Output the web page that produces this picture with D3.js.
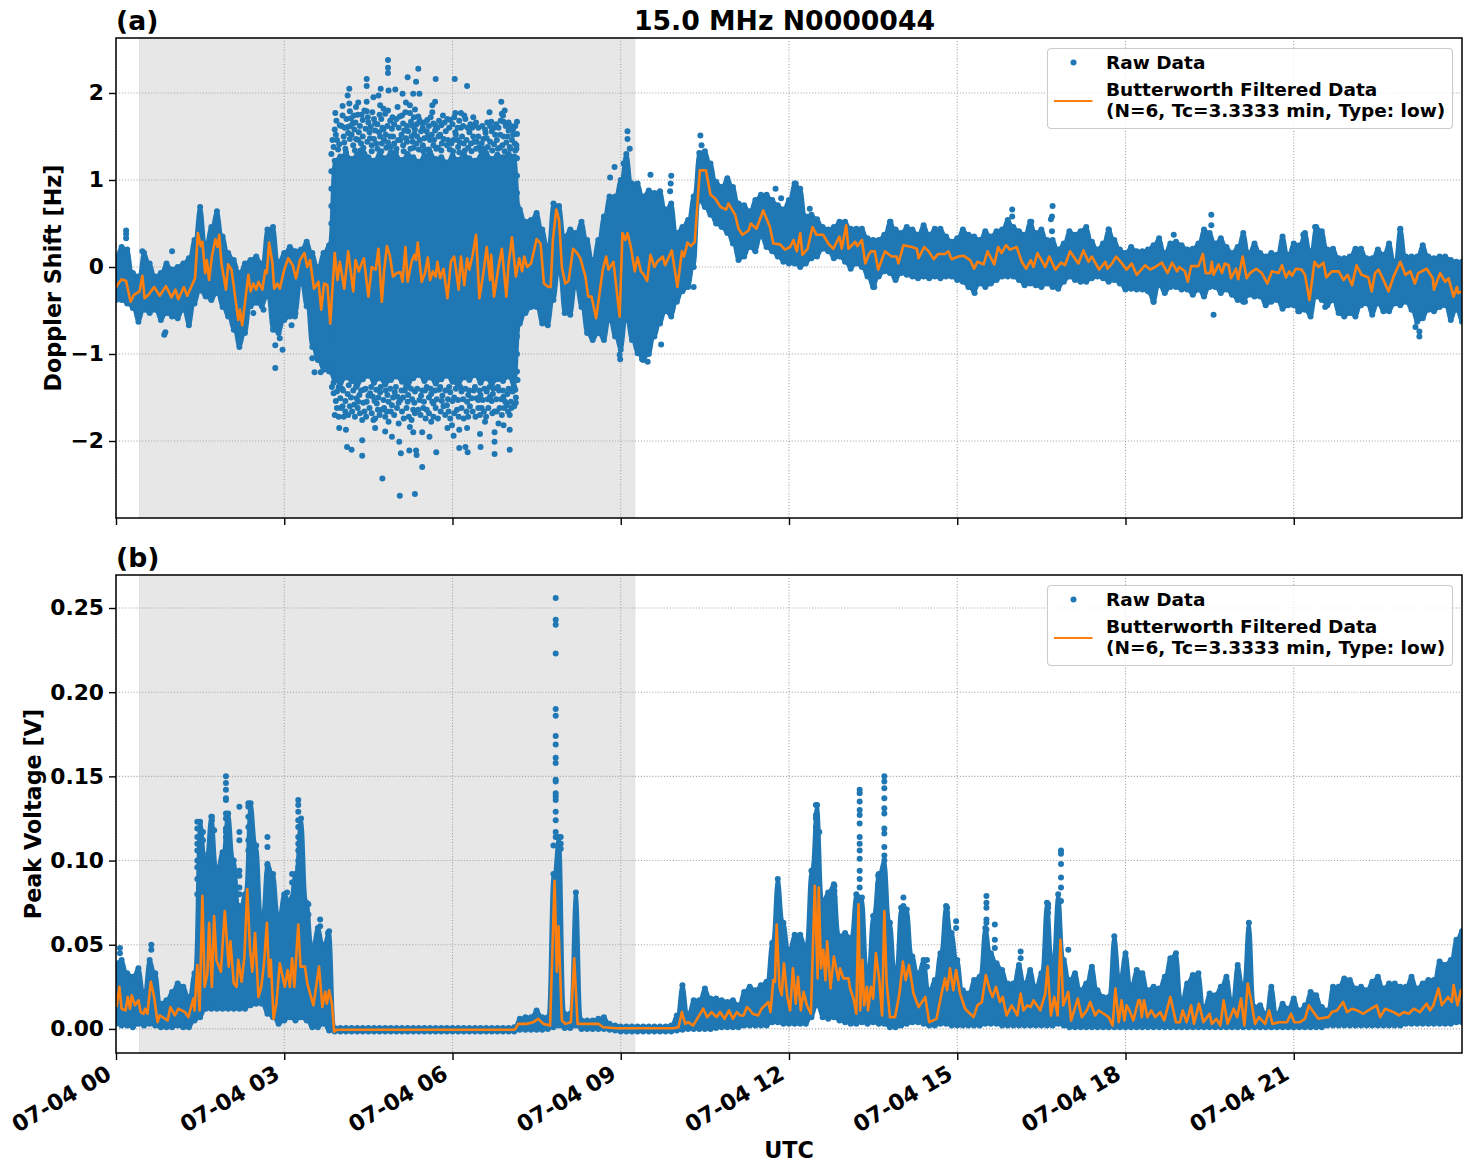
<!DOCTYPE html>
<html>
<head>
<meta charset="utf-8">
<script src="https://cdn.jsdelivr.net/npm/d3@7/dist/d3.min.js"></script>
<style>
html,body{margin:0;padding:0;background:#fff}
text{font-family:"DejaVu Sans";font-weight:bold;fill:#000}
</style>
</head>
<body>
<svg id="fig" width="1472" height="1172"></svg>
<script>
// Tick labels and panel text
const hourTicks = [0,3,6,9,12,15,18,21];
const hourTickLabels = ["07-04 00","07-04 03","07-04 06","07-04 09","07-04 12","07-04 15","07-04 18","07-04 21"];
const dopplerTicks = [-2,-1,0,1,2];
const voltageTicks = [0,0.05,0.10,0.15,0.20,0.25];
const shadedHours = [0.42,9.25];

// Doppler shift: upper and lower edge of the raw point cloud, one pair per 0.1 h from 00:00 to 24:00
const dopplerHigh = [
.12,.23,.20,-.07,-.11,.16,.04,-.11,-.07,.04,
-.03,0,.04,.10,.31,.69,.27,.46,.64,.35,
.16,.08,-.07,.04,.08,.12,.04,.43,.46,.06,
.16,.23,.18,.20,.29,.16,0,.16,.25,
1.22,1.27,1.30,1.24,1.29,1.33,1.26,1.22,1.30,1.25,1.32,1.27,1.23,1.30,1.26,1.21,1.28,1.32,1.24,1.26,1.20,1.28,1.23,1.30,1.25,1.22,1.27,1.31,1.24,1.29,1.26,1.30,1.27,
.66,.52,.54,.62,.43,.23,.73,.70,
.35,.43,.39,.52,.31,.08,.31,.58,.81,.81,
1.0,1.30,.96,.96,.81,.88,.85,.87,.66,.73,
.39,.46,.54,.81,1.31,1.33,1.19,.98,.92,1.02,
.92,.73,.71,.64,.77,.83,.83,.77,.71,.66,
.77,.96,.90,.58,.60,.55,.46,.43,.46,.52,
.52,.44,.44,.44,.33,.31,.31,.37,.52,.43,
.39,.46,.43,.37,.48,.37,.44,.44,.35,.29,
.33,.43,.37,.35,.31,.41,.35,.41,.43,.54,
.46,.41,.37,.52,.39,.43,.31,.31,.20,.27,
.41,.37,.41,.46,.29,.20,.27,.43,.31,.20,
.16,.23,.18,.18,.20,.25,.33,.16,.27,.29,
.25,.20,.21,.27,.43,.39,.27,.33,.23,.16,
.23,.39,.16,.27,.16,.12,.16,.14,.35,.14,
.27,.25,.39,.18,.46,.41,.20,.21,.10,.10,
.12,.21,.21,.10,.10,.20,.14,.27,.06,.44,
.12,.12,.12,.25,.12,.10,.12,.12,.08,.06,
.06];
const dopplerLow = [
-.38,-.38,-.42,-.47,-.63,-.49,-.53,-.49,-.61,-.53,
-.57,-.59,-.49,-.67,-.42,-.27,-.34,-.38,-.30,-.46,
-.57,-.72,-.92,-.76,-.45,-.41,-.45,-.34,-.72,-.76,
-.61,-.57,-.53,-.19,-.45,-.92,-1.07,-1.18,-1.2,
-1.30,-1.34,-1.27,-1.31,-1.36,-1.29,-1.25,-1.33,-1.28,-1.35,-1.30,-1.26,-1.32,-1.37,-1.28,-1.24,-1.31,-1.27,-1.34,-1.29,-1.25,-1.32,-1.36,-1.27,-1.30,-1.24,-1.33,-1.28,-1.35,-1.29,-1.31,-1.26,-1.38,
-.65,-.53,-.46,-.46,-.65,-.67,-.38,-.05,
-.53,-.55,-.23,-.46,-.76,-.84,-.76,-.84,-.61,-.80,
-.95,-.61,-.84,-.99,-1.07,-1.0,-.80,-.65,-.51,-.57,
-.40,-.28,-.23,0,.77,.69,.60,.50,.46,.39,
.27,.08,.12,.23,.18,.35,.23,.18,.12,.06,
.04,.04,0,.04,.10,.12,.21,.18,.10,.12,
.06,-.02,.04,0,-.11,-.23,-.11,-.05,-.07,-.15,
-.07,-.09,-.11,-.13,-.11,-.13,-.11,-.13,-.11,-.11,
-.15,-.17,-.23,-.28,-.19,-.23,-.19,-.15,-.11,-.11,
-.11,-.15,-.21,-.19,-.21,-.23,-.19,-.23,-.25,-.17,
-.11,-.15,-.17,-.17,-.13,-.11,-.13,-.17,-.15,-.19,
-.26,-.25,-.26,-.26,-.28,-.40,-.21,-.30,-.23,-.23,
-.26,-.26,-.32,-.26,-.34,-.23,-.23,-.30,-.26,-.32,
-.38,-.40,-.32,-.34,-.34,-.44,-.40,-.38,-.48,-.44,
-.44,-.51,-.49,-.57,-.34,-.38,-.44,-.38,-.53,-.57,
-.53,-.57,-.44,-.42,-.55,-.42,-.51,-.51,-.42,-.44,
-.40,-.49,-.63,-.59,-.49,-.51,-.46,-.44,-.61,-.49,
-.63];

// Doppler shift: isolated raw samples outside the cloud, [hour, Hz]
const dopplerPoints = [
[.18,.42],[.18,.38],[.18,.33],[.47,.18],[1.0,.18],[.86,-.78],[.88,-.75],
[2.84,-1.16],[2.84,-.90],[2.97,-.95],[2.92,-.82],[3.5,-1.05],[3.54,-1.21],[3.65,-1.21],[3.68,-1.11],[2.45,-.53],[2.63,-.49],[3.13,-.67],[3.19,-.57],
[4.85,2.38],[4.85,2.29],[4.85,2.23],[5.39,2.28],[5.20,2.18],[5.35,2.13],[5.70,2.16],[6.04,2.16],[6.26,2.08],[4.47,2.16],[4.47,2.08],[4.16,2.05],[4.13,1.97],[4.86,2.03],[4.98,2.04],[4.72,2.05],[4.68,1.97],[4.59,1.95],[4.47,1.90],[4.32,1.89],[4.16,1.88],[4.04,1.85],[3.91,1.77],[5.11,1.99],[5.30,1.99],[5.41,1.99],[5.69,1.90],[5.64,1.86],[5.17,1.89],[5.24,1.86],[5.33,1.81],[5.02,1.84],[4.71,1.86],[4.77,1.82],[4.85,1.80],[4.38,1.75],[4.47,1.79],[4.70,1.75],[4.17,1.79],[4.28,1.84],[4.19,1.71],[4.22,1.65],[4.50,1.66],[4.62,1.65],[4.89,1.68],[5.10,1.74],[5.24,1.77],[5.39,1.73],[5.41,1.69],[5.64,1.78],[5.55,1.69],[5.69,1.63],[5.83,1.74],[5.96,1.69],[6.05,1.77],[6.15,1.77],[6.23,1.70],[6.37,1.72],[6.40,1.63],[6.66,1.78],[6.87,1.90],[6.93,1.80],[6.88,1.76],[7.15,1.67],[6.91,1.67],[6.69,1.67],[3.90,1.58],[4.13,1.61],[4.45,1.59],[4.62,1.57],[4.77,1.58],[4.92,1.59],[5.14,1.57],[5.33,1.58],[5.54,1.56],[5.69,1.57],[6.15,1.60],[7.15,1.53],[7.0,1.57],[6.70,1.56],[6.06,1.52],[5.78,1.52],[3.94,1.46],[4.06,1.50],[4.17,1.47],[4.32,1.46],[4.53,1.48],[4.71,1.50],[4.89,1.50],[5.07,1.46],[5.27,1.50],[5.42,1.46],[5.60,1.46],[5.81,1.42],[6.02,1.46],[6.20,1.42],[6.37,1.50],[6.43,1.44],[6.61,1.48],[6.79,1.46],[6.91,1.50],[7.06,1.46],
[3.88,1.38],[3.98,1.41],[4.09,1.36],[4.23,1.40],[4.26,1.34],[4.37,1.42],[4.41,1.37],[4.56,1.40],[4.66,1.36],[4.74,1.42],[4.82,1.37],[4.96,1.42],[5.0,1.36],[5.12,1.40],[5.19,1.44],[5.31,1.37],[5.36,1.42],[5.47,1.40],[5.52,1.35],[5.66,1.40],[5.74,1.37],[5.90,1.40],[5.95,1.35],[6.10,1.38],[6.13,1.43],[6.28,1.37],[6.33,1.42],[6.48,1.38],[6.52,1.42],[6.57,1.36],[6.74,1.41],[6.84,1.37],[6.96,1.43],[7.02,1.38],[7.11,1.42],[7.14,1.36],
[3.84,1.30],[3.84,1.1],[3.84,.9],[3.84,.7],[3.84,.5],[3.84,-.5],[3.84,-.8],[3.84,-1.1],[3.86,1.46],
[7.15,1.25],[7.15,1.05],[7.15,.85],[7.16,.7],[7.15,-.8],[7.15,-1.0],[7.15,-1.2],[7.16,-1.3],[7.14,1.4],
[3.92,1.52],[3.96,1.35],[4.02,1.62],[4.07,1.43],[4.10,1.32],[4.14,1.54],[4.20,1.52],[4.25,1.58],[4.28,1.47],[4.33,1.55],[4.36,1.34],[4.40,1.50],[4.43,1.30],[4.48,1.44],[4.52,1.55],[4.56,1.33],[4.60,1.47],[4.64,1.42],[4.69,1.55],[4.73,1.33],[4.78,1.46],[4.81,1.52],[4.85,1.43],[4.90,1.38],[4.94,1.50],[4.99,1.32],[5.03,1.46],[5.09,1.52],[5.13,1.33],[5.17,1.48],[5.21,1.56],[5.25,1.36],[5.29,1.44],[5.32,1.53],[5.37,1.50],[5.40,1.35],[5.44,1.56],[5.48,1.33],[5.50,1.48],[5.56,1.50],[5.58,1.35],[5.63,1.52],[5.67,1.46],[5.71,1.36],[5.75,1.50],[5.80,1.34],[5.84,1.47],[5.88,1.56],[5.92,1.46],[5.98,1.42],[6.01,1.33],[6.05,1.55],[6.09,1.46],[6.12,1.32],[6.17,1.50],[6.22,1.34],[6.25,1.46],[6.30,1.55],[6.34,1.33],[6.39,1.44],[6.42,1.36],[6.46,1.50],[6.51,1.33],[6.55,1.47],[6.59,1.54],[6.63,1.38],[6.67,1.44],[6.71,1.34],[6.76,1.52],[6.81,1.36],[6.85,1.52],[6.89,1.40],[6.93,1.33],[6.98,1.50],[7.03,1.36],[7.08,1.52],[7.12,1.34],
[3.93,1.68],[3.99,1.63],[4.04,1.74],[4.08,1.60],[4.11,1.70],[4.18,1.62],[4.24,1.74],[4.27,1.66],[4.31,1.75],[4.35,1.62],[4.40,1.69],[4.43,1.80],[4.49,1.72],[4.54,1.61],[4.57,1.78],[4.60,1.70],[4.66,1.64],[4.73,1.70],[4.75,1.60],[4.80,1.76],[4.84,1.62],[4.93,1.72],[4.96,1.64],[5.00,1.70],[5.04,1.60],[5.06,1.73],[5.12,1.65],[5.16,1.78],[5.19,1.62],[5.26,1.67],[5.29,1.62],[5.31,1.72],[5.36,1.64],[5.44,1.66],[5.47,1.60],[5.50,1.66],[5.58,1.62],[5.61,1.72],[5.66,1.65],[5.73,1.60],[5.76,1.68],[5.80,1.63],[5.86,1.66],[5.91,1.70],[5.94,1.60],[6.00,1.64],[6.03,1.72],[6.09,1.60],[6.12,1.68],[6.19,1.62],[6.21,1.74],[6.27,1.60],[6.32,1.64],[6.35,1.60],[6.42,1.66],[6.46,1.60],[6.53,1.62],[6.58,1.58],[6.62,1.66],[6.67,1.62],[6.74,1.60],[6.78,1.64],[6.82,1.60],[6.86,1.68],[6.90,1.74],[6.95,1.62],[7.0,1.66],[7.04,1.62],[7.08,1.58],[7.12,1.62],
[4.75,-2.43],[5.46,-2.30],[5.06,-2.63],[5.33,-2.61],[4.39,-2.17],[4.12,-2.07],[4.20,-2.10],[4.39,-1.99],[5.08,-2.14],[5.23,-2.11],[5.35,-2.11],[5.36,-2.16],[5.71,-2.13],[6.12,-2.08],[6.23,-2.07],[6.27,-2.13],[6.50,-2.07],[6.75,-2.01],[6.75,-2.15],[7.02,-2.10],[5.05,-2.01],[4.92,-1.95],[3.98,-1.85],[4.10,-1.87],[4.80,-1.89],[4.62,-1.85],[5.30,-1.90],[5.46,-1.90],[5.59,-1.95],[6.02,-1.94],[5.91,-1.85],[6.12,-1.87],[6.26,-1.85],[6.49,-1.92],[6.75,-1.90],[7.02,-1.87],[6.91,-1.82],[6.82,-1.80],[6.58,-1.78],[3.90,-1.70],[4.06,-1.72],[4.39,-1.76],[4.59,-1.76],[4.80,-1.72],[5.04,-1.80],[5.24,-1.84],[5.39,-1.64],[5.54,-1.64],[5.66,-1.72],[5.84,-1.60],[5.99,-1.82],[6.20,-1.74],[6.31,-1.60],[6.52,-1.62],[6.75,-1.66],[7.02,-1.70],[6.97,-1.59],[3.88,-1.45],[4.0,-1.51],[4.17,-1.60],[4.29,-1.51],[4.47,-1.55],[4.65,-1.57],[4.74,-1.64],[4.92,-1.59],[5.07,-1.53],[5.30,-1.64],[5.66,-1.57],[5.90,-1.59],[6.08,-1.64],[6.43,-1.51],[6.67,-1.49],[6.91,-1.49],[7.12,-1.41],
[3.85,-1.38],[3.94,-1.43],[4.03,-1.40],[4.13,-1.46],[4.23,-1.42],[4.34,-1.47],[4.42,-1.41],[4.53,-1.45],[4.58,-1.49],[4.71,-1.44],[4.84,-1.47],[4.97,-1.44],[5.02,-1.49],[5.15,-1.42],[5.21,-1.47],[5.33,-1.43],[5.44,-1.48],[5.51,-1.42],[5.62,-1.46],[5.76,-1.41],[5.82,-1.48],[5.96,-1.44],[6.03,-1.50],[6.16,-1.43],[6.28,-1.47],[6.38,-1.42],[6.50,-1.47],[6.61,-1.43],[6.72,-1.46],[6.83,-1.42],[6.98,-1.46],[7.07,-1.43],
[3.88,-1.33],[3.92,-1.54],[3.97,-1.38],[4.01,-1.62],[4.05,-1.42],[4.09,-1.54],[4.15,-1.36],[4.19,-1.50],[4.25,-1.58],[4.28,-1.38],[4.32,-1.55],[4.37,-1.42],[4.41,-1.56],[4.45,-1.40],[4.50,-1.48],[4.55,-1.38],[4.61,-1.54],[4.64,-1.41],[4.68,-1.50],[4.72,-1.38],[4.77,-1.53],[4.81,-1.42],[4.86,-1.55],[4.89,-1.40],[4.94,-1.50],[4.99,-1.38],[5.04,-1.56],[5.09,-1.42],[5.12,-1.50],[5.17,-1.38],[5.20,-1.55],[5.26,-1.40],[5.28,-1.52],[5.32,-1.56],[5.37,-1.40],[5.41,-1.53],[5.46,-1.42],[5.49,-1.55],[5.54,-1.38],[5.58,-1.50],[5.61,-1.40],[5.64,-1.55],[5.69,-1.42],[5.72,-1.52],[5.78,-1.38],[5.81,-1.54],[5.87,-1.42],[5.92,-1.52],[5.94,-1.38],[6.0,-1.54],[6.06,-1.40],[6.10,-1.53],[6.14,-1.38],[6.19,-1.52],[6.23,-1.40],[6.26,-1.55],[6.30,-1.42],[6.34,-1.51],[6.40,-1.38],[6.46,-1.53],[6.48,-1.42],[6.54,-1.53],[6.57,-1.40],[6.63,-1.52],[6.66,-1.38],[6.70,-1.54],[6.73,-1.40],[6.78,-1.52],[6.81,-1.38],[6.87,-1.52],[6.90,-1.42],[6.94,-1.55],[7.0,-1.40],[7.04,-1.55],[7.09,-1.38],[7.13,-1.50],
[3.94,-1.62],[3.97,-1.72],[4.04,-1.60],[4.09,-1.66],[4.14,-1.70],[4.21,-1.66],[4.26,-1.72],[4.31,-1.62],[4.35,-1.68],[4.43,-1.66],[4.46,-1.72],[4.52,-1.62],[4.56,-1.68],[4.62,-1.74],[4.67,-1.64],[4.70,-1.70],[4.78,-1.62],[4.83,-1.66],[4.86,-1.78],[4.90,-1.66],[4.96,-1.70],[5.01,-1.62],[5.10,-1.66],[5.13,-1.74],[5.18,-1.62],[5.22,-1.72],[5.27,-1.76],[5.33,-1.68],[5.43,-1.70],[5.48,-1.62],[5.52,-1.74],[5.58,-1.68],[5.62,-1.78],[5.70,-1.62],[5.74,-1.74],[5.79,-1.66],[5.87,-1.70],[5.93,-1.66],[5.96,-1.74],[6.03,-1.68],[6.11,-1.72],[6.16,-1.62],[6.25,-1.66],[6.28,-1.72],[6.36,-1.66],[6.41,-1.72],[6.46,-1.62],[6.49,-1.70],[6.56,-1.66],[6.60,-1.72],[6.64,-1.62],[6.71,-1.68],[6.79,-1.66],[6.84,-1.62],[6.88,-1.70],[6.92,-1.62],[6.99,-1.66],[7.05,-1.62],[7.10,-1.60],[7.13,-1.56],
[9.12,1.56],[9.12,1.47],[9.16,1.36],[8.89,1.15],[8.81,1.03],[9.05,1.19],[9.53,1.06],[9.38,-1.06],[9.48,-1.09],[8.99,-1.06],[8.98,-1.01],[9.90,1.05],[9.89,.96],[9.88,.87],[9.72,-.89],
[10.42,1.51],[10.44,1.40],[11.76,.90],[11.86,.79],[12.12,.96],[12.37,.67],[10.30,-.23],[13.81,.52],[15.98,.66],[15.98,.58],[15.31,-.30],[13.52,-.23],
[16.70,.70],[16.69,.58],[16.67,.55],[16.69,.41],[16.32,.52],[17.70,.43],[18.86,.37],[19.53,.60],[19.53,.48],[19.57,-.55],[18.45,-.30],[18.50,-.40],[20.13,-.40],[21.38,.46],[21.56,-.46],[23.17,-.69],[23.24,-.80],[23.24,-.74],[21.08,-.51],[22.90,.43],[21.17,.37]];

// Doppler shift: low-pass filtered trace
const dopplerFilterHours = [
0,.02,.10,.18,.26,.32,.42,.47,.51,.58,.68,.78,.89,.99,1.06,1.11,1.21,1.27,1.41,1.46,1.51,1.54,1.59,1.62,1.66,1.71,1.77,1.81,1.84,1.88,1.96,2.0,2.06,2.12,2.18,2.21,2.25,2.36,2.40,2.45,2.50,2.54,2.61,2.66,2.69,2.73,2.79,2.82,2.88,2.92,3.0,3.07,3.15,3.21,3.28,3.36,3.41,3.46,3.53,3.61,3.66,3.71,3.77,3.82,3.90,3.95,3.99,4.07,4.14,4.23,4.27,4.33,4.38,4.42,4.50,4.56,4.63,4.68,4.74,4.78,4.83,
4.88,4.94,5.01,5.07,5.11,5.16,5.20,5.27,5.32,5.35,5.38,5.45,5.51,5.56,5.60,5.65,5.70,5.73,5.78,5.84,5.91,5.97,6.03,6.11,6.15,6.21,6.26,6.30,6.36,6.42,6.48,6.55,6.61,6.67,6.69,6.74,6.82,6.88,6.96,7.0,7.06,7.13,7.19,7.24,7.28,7.33,7.40,7.50,7.57,7.63,7.71,7.75,7.79,7.85,7.90,7.95,8.01,8.07,8.15,8.22,8.28,8.37,8.42,8.48,8.56,8.62,8.68,8.74,8.78,8.87,8.98,
9.03,9.08,9.12,9.18,9.25,9.30,9.36,9.40,9.47,9.53,9.60,9.65,9.75,9.79,9.91,10.01,10.09,10.13,10.19,10.25,10.32,10.41,10.52,10.60,10.68,10.78,10.88,10.92,11.04,11.10,11.17,11.28,11.32,11.42,11.54,11.66,11.72,11.84,11.93,12.02,12.08,12.14,12.20,12.24,12.33,12.42,12.49,12.61,12.70,12.79,12.90,12.94,13.02,13.06,13.18,13.22,13.30,13.36,13.42,13.46,13.53,13.59,13.71,13.83,13.92,13.95,14.04,14.19,14.28,14.31,14.41,14.49,14.58,14.66,14.78,14.84,14.90,15.02,15.11,15.23,15.30,15.36,15.47,15.54,15.66,15.73,15.79,15.87,15.94,16.06,16.15,16.23,16.31,
16.36,16.43,16.57,16.64,16.75,16.85,16.92,17.01,17.16,17.25,17.34,17.40,17.53,17.64,17.68,17.76,17.83,17.90,18.02,18.11,18.20,18.35,18.44,18.53,18.65,18.75,18.83,18.92,18.96,19.06,19.11,19.17,19.30,19.38,19.43,19.51,19.54,19.57,19.66,19.72,19.77,19.84,19.88,19.97,20.01,20.09,20.16,20.22,20.33,20.43,20.53,20.61,20.73,20.79,20.86,20.92,20.97,21.04,21.14,21.20,21.28,21.37,21.44,21.53,21.58,21.68,21.80,21.89,21.96,22.04,22.12,22.21,22.33,22.39,22.45,22.51,22.60,22.69,22.78,22.90,22.99,23.08,23.16,23.22,23.37,23.48,23.50,23.61,23.70,23.76,23.85,23.91,23.93,24];
const dopplerFilter = [
-.24,-.21,-.14,-.16,-.40,-.32,-.28,-.10,-.36,-.32,-.23,-.33,-.22,-.35,-.26,-.37,-.23,-.33,-.13,.39,.24,.29,-.07,.08,-.15,.12,.32,.23,.37,.04,-.26,.03,-.03,-.32,-.61,-.49,-.67,-.09,-.28,-.19,-.26,-.17,-.26,-.04,-.07,.28,.04,-.25,-.19,-.25,-.03,.10,.02,-.13,.08,.16,0,.08,-.25,-.17,-.49,-.19,-.21,-.65,.16,-.15,.06,-.25,.18,-.28,.08,-.05,.04,.10,-.34,0,-.03,.21,-.40,-.05,.24,
.14,-.11,-.07,-.06,-.17,.23,-.17,.06,.14,.08,.28,-.17,-.07,.11,-.15,-.05,-.11,.06,-.13,-.02,-.36,.06,.12,-.26,.12,-.21,.10,-.03,.14,.37,-.36,-.07,.23,-.15,.14,-.34,0,.21,-.34,.04,.34,-.11,.10,-.05,.12,0,.04,.32,.27,-.19,-.23,-.23,.31,.66,.54,0,-.19,-.16,.21,.16,.10,-.11,-.34,-.34,-.59,-.31,-.03,.12,-.03,.06,-.57,
.39,.31,.39,.23,-.05,.11,-.05,-.08,-.16,.14,0,.06,.12,.02,.19,-.23,.18,.12,.28,.24,.29,1.11,1.11,.83,.79,.69,.66,.73,.60,.44,.37,.42,.50,.44,.65,.46,.27,.26,.20,.23,.31,.18,.39,.14,.21,.46,.37,.37,.27,.21,.35,.21,.48,.21,.29,.24,.31,.04,.14,.18,.18,-.03,.18,.12,.12,.04,.25,.23,.21,.10,.23,.18,.09,.15,.15,.18,.09,.12,.13,.08,-.02,.06,.03,.18,.03,.23,.16,.25,.20,.23,.06,-.02,.08,
0,.16,0,.12,-.03,.05,.02,.18,.04,.19,.06,.12,-.03,.06,-.02,.04,.12,.07,-.03,.04,-.09,.02,-.03,0,.05,-.07,.05,-.05,0,-.05,-.17,.01,.01,.15,-.07,-.07,.06,-.09,.03,-.07,.04,.02,-.13,-.02,-.14,.12,-.13,-.07,-.02,-.07,-.19,-.05,-.07,.02,-.12,-.05,-.10,-.02,-.03,-.09,-.38,.06,0,.05,-.12,-.05,-.05,-.15,-.09,-.21,.02,-.09,-.12,-.28,-.07,-.03,-.15,-.28,-.11,.06,-.09,-.05,-.19,-.07,-.02,-.13,-.26,-.07,-.17,-.13,-.34,-.23,-.30,-.28];

// Peak voltage: upper and lower edge of the raw point cloud, one pair per 0.1 h from 00:00 to 24:00
const voltageHigh = [
.039,.041,.033,.031,.036,.022,.041,.033,.015,.017,
.022,.027,.025,.019,.033,.123,.100,.126,.095,.105,
.128,.100,.069,.080,.134,.109,.065,.098,.092,.067,
.080,.076,.092,.125,.075,.049,.060,.050,.058,
.0005,.0005,.0005,.0005,.0005,.0005,.0005,.0005,.0005,.0005,.0005,.0005,.0005,.0005,.0005,.0005,.0005,.0005,.0005,.0005,.0005,.0005,.0005,.0005,.0005,.0005,.0005,.0005,.0005,.0005,.0005,.0005,.001,
.006,.007,.007,.011,.007,.007,.092,.114,
.009,.009,.081,.005,.005,.005,.006,.007,.003,.002,
.0015,.0015,.0015,.0015,.0015,.0015,.0015,.0015,.0015,.002,
.008,.026,.009,.017,.017,.024,.018,.018,.017,.016,
.017,.014,.022,.025,.023,.026,.028,.051,.089,.063,
.047,.056,.056,.049,.094,.133,.076,.081,.086,.055,
.057,.054,.080,.078,.033,.067,.092,.100,.063,.033,
.072,.071,.043,.033,.041,.023,.029,.045,.073,.057,
.041,.023,.021,.029,.031,.060,.045,.039,.035,.027,
.027,.038,.027,.035,.025,.033,.075,.039,.080,.041,
.029,.033,.023,.027,.037,.023,.019,.019,.055,.031,
.045,.026,.035,.033,.023,.025,.024,.031,.042,.045,
.017,.027,.032,.033,.013,.021,.020,.025,.031,.017,
.038,.025,.063,.013,.014,.009,.025,.009,.015,.012,
.018,.011,.014,.022,.020,.013,.011,.025,.025,.030,
.029,.024,.025,.023,.028,.031,.024,.027,.027,.025,
.025,.031,.024,.027,.029,.029,.040,.038,.041,.053,
.058];
const voltageLow = [
.003,.002,.002,.001,.003,.002,.003,.002,.001,.001,
.001,.002,.001,.001,.005,.007,.012,.012,.012,.012,
.012,.012,.012,.012,.014,.015,.015,.009,.007,.003,
.005,.007,.005,.007,.005,.001,.001,.003,-.001,
-.0015,-.0015,-.0015,-.0015,-.0015,-.0015,-.0015,-.0015,-.0015,-.0015,-.0015,-.0015,-.0015,-.0015,-.0015,-.0015,-.0015,-.0015,-.0015,-.0015,-.0015,-.0015,-.0015,-.0015,-.0015,-.0015,-.0015,-.0015,-.0015,-.0015,-.0015,-.0015,-.0015,
-.0005,-.0005,-.0005,-.0005,-.0005,0,.001,.002,
.0005,.0005,.002,0,0,0,0,0,-.0005,-.001,
-.0015,-.0015,-.0015,-.0015,-.0015,-.0015,-.0015,-.0015,-.0015,-.0015,
-.001,-.0005,0,0,0,0,0,.0005,.001,.001,
.001,.001,.002,.002,.002,.002,.002,.004,.004,.003,
.003,.003,.003,.003,.007,.014,.007,.006,.007,.005,
.004,.003,.003,.004,.003,.004,.003,.003,.001,.001,
.002,.003,.004,.004,.003,.002,.002,.003,.003,.002,
.002,.002,.002,.002,.002,.003,.003,.003,.002,.002,
.002,.002,.002,.002,.002,.002,.002,.002,.003,.002,
.001,.001,.001,.001,.001,.001,.001,.001,.001,.001,
.001,.001,.001,.001,.001,.001,.001,.001,.001,.001,
.001,.001,.001,.001,.001,.001,.001,.001,.001,.001,
.001,.001,.001,.001,.001,.001,.001,.001,.001,.001,
.001,.001,.001,.001,.001,.001,.002,.002,.002,.002,
.002,.002,.002,.002,.002,.002,.002,.002,.002,.002,
.003,.003,.003,.003,.003,.003,.003,.003,.003,.004,
.004];

// Peak voltage: isolated raw samples above the cloud, [hour, V]
const voltagePoints = [
[.07,.048],[.07,.045],[.63,.050],[.63,.047],
[1.45,.123],[1.45,.119],[1.45,.114],[1.45,.110],[1.45,.106],[1.45,.100],[1.45,.096],[1.45,.089],[1.45,.080],
[1.55,.117],[1.55,.112],[1.55,.104],[1.55,.100],[1.71,.126],[1.71,.124],[1.71,.111],[1.75,.118],
[1.96,.150],[1.96,.146],[1.96,.142],[1.96,.137],[1.96,.136],[1.96,.128],[1.96,.125],[1.96,.119],[1.96,.117],[1.96,.114],[1.96,.107],
[2.2,.132],[2.2,.117],[2.2,.112],[2.2,.094],[2.2,.091],[2.2,.084],[2.2,.080],[2.2,.073],
[2.36,.134],[2.36,.132],[2.36,.126],[2.36,.120],[2.36,.112],[2.36,.106],[2.48,.108],[2.48,.105],[2.48,.096],
[2.7,.114],[2.7,.108],[2.7,.097],[2.7,.092],
[3.25,.136],[3.25,.133],[3.25,.129],[3.25,.124],[3.25,.120],[3.25,.114],[3.25,.110],[3.25,.106],[3.25,.100],[3.25,.096],[3.25,.090],[3.25,.084],
[3.14,.092],[3.14,.087],[3.14,.078],[3.05,.081],[3.05,.075],[3.43,.074],[3.43,.068],[3.64,.065],[3.64,.061],[3.78,.057],[3.78,.052],
[7.84,.256],[7.84,.243],[7.84,.240],[7.84,.223],[7.84,.190],[7.84,.186],[7.84,.174],[7.84,.169],[7.84,.161],[7.84,.158],[7.84,.148],[7.84,.147],[7.84,.140],[7.84,.138],[7.84,.136],[7.84,.129],[7.84,.124],[7.84,.117],[7.84,.114],[7.80,.109],[7.93,.114],[7.93,.110],[7.93,.107],
[12.48,.133],[12.48,.127],[12.48,.125],[12.48,.120],[12.48,.117],[12.54,.117],
[13.26,.142],[13.26,.140],[13.26,.135],[13.26,.130],[13.26,.127],[13.26,.122],[13.26,.114],[13.26,.110],[13.26,.106],[13.26,.101],[13.26,.094],[13.26,.089],[13.26,.084],
[13.70,.150],[13.70,.147],[13.70,.143],[13.70,.137],[13.70,.131],[13.70,.128],[13.70,.119],[13.70,.116],[13.70,.108],[13.70,.103],
[13.59,.091],[13.59,.086],[13.59,.080],[13.59,.077],[12.81,.085],[12.81,.082],[12.81,.078],[14.04,.078],[14.04,.073],[14.82,.072],[14.82,.069],[14.98,.064],[14.98,.060],
[15.52,.079],[15.52,.075],[15.52,.072],[15.52,.065],[15.52,.063],[15.52,.059],[15.67,.062],[15.67,.053],[15.67,.048],[16.13,.046],[16.13,.042],
[16.62,.074],[16.62,.072],[16.62,.069],[16.85,.106],[16.85,.104],[16.85,.098],[16.85,.090],[16.85,.084],[16.85,.076],[16.98,.047],[14.46,.041],[14.46,.037]];

// Peak voltage: low-pass filtered trace
const voltageFilterHours = [
.01,.06,.10,.17,.21,.25,.28,.34,.40,.44,.49,.52,.56,.62,.68,.74,.78,.92,.97,1.05,1.11,1.23,1.29,1.38,1.40,1.45,1.49,1.54,1.58,1.63,1.66,1.71,1.75,1.79,1.87,1.94,2.01,2.04,2.10,2.15,2.18,2.24,2.29,2.34,2.39,2.43,2.48,2.54,2.59,2.64,2.69,2.73,2.76,2.81,2.86,2.92,3.01,3.06,3.10,3.14,3.18,3.25,3.29,3.37,3.41,3.52,3.62,3.68,3.73,3.76,3.80,3.85,3.89,3.94,7.10,
7.13,7.17,7.32,7.44,7.53,7.62,7.74,7.82,7.86,7.89,7.95,8.01,8.11,8.17,8.23,8.39,8.6,8.69,8.93,9.94,10.03,10.09,10.15,10.2,10.29,10.38,10.47,10.54,10.62,10.71,10.77,10.85,10.93,11.0,11.07,
11.13,11.19,11.25,11.31,11.35,11.45,11.51,11.63,11.67,11.72,11.75,11.78,11.83,11.87,11.91,11.97,12.02,12.07,12.12,12.16,12.21,12.26,12.32,12.39,12.46,12.51,12.53,12.57,12.61,12.65,12.68,12.74,12.80,12.88,12.91,12.97,13.06,13.09,13.15,13.20,13.24,13.27,13.31,13.34,13.39,13.41,13.46,13.50,13.55,13.61,13.66,13.70,13.74,13.80,13.89,13.97,14.03,14.08,14.14,14.22,14.31,14.43,14.50,14.63,14.72,14.78,14.82,14.87,14.93,14.98,15.05,15.14,15.29,15.36,15.44,15.51,15.58,15.63,15.69,15.76,15.81,15.88,15.97,16.07,16.13,16.18,16.25,16.31,16.36,16.48,16.57,16.61,16.67,16.73,16.79,16.84,16.89,16.98,17.03,17.15,17.22,17.31,
17.37,17.46,17.52,17.61,17.70,17.77,17.82,17.88,17.93,17.98,18.02,18.07,18.14,18.23,18.26,18.29,18.33,18.39,18.46,18.53,18.62,18.69,18.80,18.86,18.90,18.97,19.02,19.09,19.17,19.22,19.31,19.39,19.50,19.54,19.62,19.69,19.75,19.82,19.93,19.99,20.06,20.12,20.18,20.24,20.31,20.38,20.49,20.56,20.62,20.73,20.88,20.95,21.01,21.11,21.20,21.27,21.35,21.44,21.62,21.68,21.77,21.88,21.95,22.04,22.13,22.24,22.33,22.48,22.54,22.63,22.78,22.88,22.96,23.05,23.14,23.25,23.37,23.43,23.49,23.58,23.64,23.75,23.82,23.85,23.92,23.98,24];
const voltageFilter = [
.013,.025,.012,.011,.019,.012,.020,.014,.017,.010,.009,.012,.009,.028,.019,.004,.008,.005,.013,.008,.012,.010,.007,.018,.011,.038,.011,.079,.025,.033,.063,.025,.067,.041,.034,.070,.037,.052,.027,.025,.041,.028,.043,.083,.047,.034,.057,.019,.025,.039,.063,.031,.041,.006,.015,.039,.025,.035,.025,.042,.025,.062,.037,.037,.027,.014,.037,.013,.022,.015,.023,.015,-.0016,-.0005,-.0005,
.0004,.003,.003,.004,.006,.003,.002,.088,.034,.061,.005,.003,.004,.042,.003,.003,.003,.001,.0004,.0004,.001,.010,.003,.004,.002,.007,.012,.007,.010,.007,.010,.006,.011,.006,.010,
.008,.008,.013,.011,.009,.008,.012,.016,.010,.029,.028,.062,.025,.020,.039,.019,.011,.036,.015,.031,.011,.022,.014,.009,.085,.030,.084,.036,.047,.029,.052,.024,.043,.029,.036,.030,.030,.024,.018,.009,.074,.011,.041,.014,.025,.011,.025,.018,.045,.029,.008,.070,.028,.007,.007,.021,.040,.029,.038,.021,.013,.019,.004,.006,.021,.030,.023,.036,.023,.035,.021,.012,.007,.014,.016,.032,.023,.019,.025,.016,.019,.008,.014,.008,.021,.011,.014,.013,.017,.011,.021,.037,.008,.019,.008,.053,.014,.022,.005,.018,.007,.011,
.016,.008,.011,.009,.007,.002,.024,.004,.017,.005,.014,.011,.005,.017,.017,.007,.017,.007,.011,.007,.010,.005,.019,.010,.004,.004,.011,.004,.014,.003,.015,.004,.009,.003,.006,.002,.017,.003,.012,.007,.018,.002,.027,.017,.003,.007,.003,.011,.003,.004,.004,.009,.004,.004,.006,.014,.010,.006,.007,.010,.011,.016,.010,.012,.011,.009,.011,.014,.007,.012,.010,.008,.010,.009,.012,.010,.015,.011,.014,.024,.014,.019,.016,.026,.014,.023,.023];

const sampleHours = d3.range(dopplerHigh.length).map(i => i / 10);

const blue = "#1f77b4", orange = "#ff7f0e";
const left = 116, right = 1462;
const dotRadius = 3;
const tickFont = 21.8, labelFont = 22.3, headFont = 26.7, legendFont = 18.5;
const svg = d3.select("#fig");
const x = d3.scaleLinear().domain([0,24]).range([left,right]);

function panel(cfg){
  const y = d3.scaleLinear().domain(cfg.domain).range([cfg.bottom,cfg.top]);
  const g = svg.append("g");
  const clip = "clip" + cfg.id;
  g.append("clipPath").attr("id",clip).append("rect")
    .attr("x",left).attr("y",cfg.top).attr("width",right-left).attr("height",cfg.bottom-cfg.top);

  g.append("rect").attr("x",x(shadedHours[0])).attr("y",cfg.top)
    .attr("width",x(shadedHours[1])-x(shadedHours[0])).attr("height",cfg.bottom-cfg.top)
    .attr("fill","#e7e7e7").attr("stroke","#e0e0e0");

  const grid = g.append("g").attr("stroke","#a8a8a8").attr("stroke-width",1.1).attr("stroke-dasharray","1.1,1.8");
  hourTicks.forEach(h => grid.append("line").attr("x1",x(h)).attr("x2",x(h)).attr("y1",cfg.top).attr("y2",cfg.bottom));
  cfg.ticks.forEach(v => grid.append("line").attr("x1",left).attr("x2",right).attr("y1",y(v)).attr("y2",y(v)));

  const marks = g.append("g").attr("clip-path",`url(#${clip})`);
  const cloud = d3.area().x((d,i)=>x(sampleHours[i])).y0((d,i)=>y(cfg.low[i])).y1(d=>y(d)).curve(d3.curveBumpX);
  marks.append("path").datum(cfg.high).attr("d",cloud)
    .attr("fill",blue).attr("stroke",blue).attr("stroke-width",3).attr("stroke-linejoin","round");
  // Sharp-edged block where the cloud widens abruptly
  if (cfg.stepRange) {
    const idx = d3.range(cfg.stepRange[0], cfg.stepRange[1]+1);
    marks.append("path").datum(idx).attr("fill",blue)
      .attr("d", d3.area().x(i=>x(sampleHours[i])).y0(i=>y(cfg.low[i])).y1(i=>y(cfg.high[i])).curve(d3.curveStep));
  }
  const edge = sampleHours.flatMap((h,i)=>[[h,cfg.high[i]],[h,cfg.low[i]]]);
  marks.selectAll("circle.edge").data(edge).join("circle").attr("class","edge")
    .attr("cx",d=>x(d[0])).attr("cy",d=>y(d[1])).attr("r",dotRadius).attr("fill",blue);
  marks.selectAll("circle.raw").data(cfg.points).join("circle").attr("class","raw")
    .attr("cx",d=>x(d[0])).attr("cy",d=>y(d[1])).attr("r",dotRadius).attr("fill",blue);
  const trace = d3.line().x((d,i)=>x(cfg.filterHours[i])).y(d=>y(d));
  marks.append("path").datum(cfg.filter).attr("d",trace).attr("fill","none").attr("stroke",orange).attr("stroke-width",2.6).attr("stroke-linejoin","round");

  // Axes
  const axL = g.append("g").attr("transform",`translate(${left},0)`)
    .call(d3.axisLeft(y).tickValues(cfg.ticks).tickFormat(cfg.format).tickSize(7).tickPadding(5));
  const axB = g.append("g").attr("transform",`translate(0,${cfg.bottom})`)
    .call(d3.axisBottom(x).tickValues(hourTicks).tickFormat("").tickSize(7));
  [axL,axB].forEach(a=>{a.select(".domain").remove();a.selectAll("line").attr("stroke","#000").attr("stroke-width",1.4);});
  axL.selectAll("text").attr("font-size",tickFont).attr("font-family","DejaVu Sans").attr("font-weight","bold").attr("fill","#000");

  g.append("rect").attr("x",left).attr("y",cfg.top).attr("width",right-left).attr("height",cfg.bottom-cfg.top)
    .attr("fill","none").attr("stroke","#000").attr("stroke-width",1.5);

  // Axis title and panel tag
  const my = (cfg.top+cfg.bottom)/2;
  g.append("text").attr("transform",`translate(${cfg.labelX},${my}) rotate(-90)`)
    .attr("text-anchor","middle").attr("font-size",labelFont).text(cfg.label);
  g.append("text").attr("x",left).attr("y",cfg.top-8).attr("font-size",headFont).text(cfg.tag);

  // Legend box
  const lg = g.append("g").attr("transform",`translate(1047.5,${cfg.top+10.5})`);
  lg.append("rect").attr("width",405).attr("height",80).attr("rx",3.5)
    .attr("fill","#fff").attr("fill-opacity",.8).attr("stroke","#ccc").attr("stroke-width",1.1);
  lg.append("circle").attr("cx",26).attr("cy",14).attr("r",dotRadius).attr("fill",blue);
  lg.append("line").attr("x1",6.5).attr("x2",45).attr("y1",52.5).attr("y2",52.5).attr("stroke",orange).attr("stroke-width",2);
  lg.append("text").attr("x",58.5).attr("y",20.5).attr("font-size",legendFont).text("Raw Data");
  lg.append("text").attr("x",58.5).attr("y",47.5).attr("font-size",legendFont).text("Butterworth Filtered Data");
  lg.append("text").attr("x",58.5).attr("y",68.5).attr("font-size",legendFont).text("(N=6, Tc=3.3333 min, Type: low)");
  return y;
}

panel({id:"a",top:38,bottom:518,domain:[-2.885,2.632],ticks:dopplerTicks,format:d=>(d<0?"\u2212":"")+Math.abs(d),
  high:dopplerHigh,low:dopplerLow,points:dopplerPoints,filterHours:dopplerFilterHours,filter:dopplerFilter,stepRange:[39,71],
  label:"Doppler Shift [Hz]",labelX:61,tag:"(a)"});
panel({id:"b",top:575,bottom:1053,domain:[-0.0143,0.2696],ticks:voltageTicks,format:d3.format(".2f"),
  high:voltageHigh,low:voltageLow,points:voltagePoints,filterHours:voltageFilterHours,filter:voltageFilter,
  label:"Peak Voltage [V]",labelX:41,tag:"(b)"});

// Rotated hour labels under the lower panel
const tickText = svg.append("g");
hourTicks.forEach((h,i)=>{
  tickText.append("text").attr("transform",`translate(${x(h)-11},1064) rotate(-30)`)
    .attr("text-anchor","end").attr("font-size",labelFont).attr("dy","0.72em").text(hourTickLabels[i]);
});

svg.append("text").attr("x",784.5).attr("y",30).attr("text-anchor","middle").attr("font-size",headFont).text("15.0 MHz N0000044");
svg.append("text").attr("x",789).attr("y",1158).attr("text-anchor","middle").attr("font-size",labelFont).text("UTC");
</script>
</body>
</html>
